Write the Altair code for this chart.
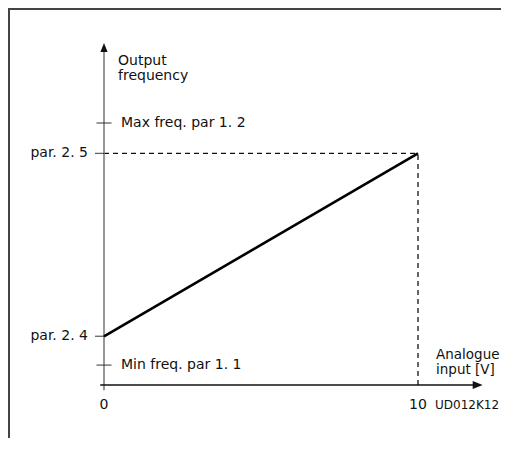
import altair as alt
import pandas as pd

# ---------------- data ----------------
X_TICK_VALUES = [0, 10]
X_TICK_LABELS = ["0", "10"]
LINE_X = [0, 10]
LINE_Y = [9.3, 44.2]
LEVEL_LABELS = ["Min freq. par 1. 1", "par. 2. 4", "par. 2. 5", "Max freq. par 1. 2"]
LEVEL_VALUES = [3.8, 9.3, 44.2, 50.0]
LEVEL_SIDE = ["right", "left", "left", "right"]
Y_TITLE = "Output\nfrequency"
X_TITLE = "Analogue\ninput [V]"
CODE_LABEL = "UD012K12"
X_AXIS_END = 11.9
Y_AXIS_END = 64.4

# ---------------- layout ----------------
W, H = 493, 430
X0_PX, PX_PER_X = 96, 31.4
Y0_PX, PX_PER_Y = 377, 5.24
FONT = "DejaVu Sans"
INK = "#111111"

xs = alt.Scale(domain=[-X0_PX / PX_PER_X, (W - X0_PX) / PX_PER_X], nice=False, zero=False)
ys = alt.Scale(domain=[(Y0_PX - H) / PX_PER_Y, Y0_PX / PX_PER_Y], nice=False, zero=False)


def X(f="x"):
    return alt.X(f"{f}:Q", scale=xs, axis=None)


def Y(f="y"):
    return alt.Y(f"{f}:Q", scale=ys, axis=None)


one = pd.DataFrame({"a": [0]})

frame_left = alt.Chart(one).mark_rule(color="#444444", strokeWidth=2).encode(
    x=alt.value(1), y=alt.value(0), y2=alt.value(H)
)
frame_top = alt.Chart(one).mark_rule(color="#444444", strokeWidth=2).encode(
    y=alt.value(1), x=alt.value(0), x2=alt.value(W)
)

y_axis = alt.Chart(pd.DataFrame({"x": [0], "y": [-1], "y2": [Y_AXIS_END]})).mark_rule(
    color="#777777", strokeWidth=1.5
).encode(x=X(), y=Y(), y2="y2:Q")

x_axis = alt.Chart(pd.DataFrame({"x": [-0.12], "x2": [X_AXIS_END], "y": [0]})).mark_rule(
    color=INK, strokeWidth=1.3
).encode(x=X(), x2="x2:Q", y=Y())

y_arrow = alt.Chart(pd.DataFrame({"x": [0], "y": [Y_AXIS_END]})).mark_point(
    shape="M0,-1L0.8,1L-0.8,1Z", filled=True, size=81, color=INK, opacity=1
).encode(x=X(), y=Y())

x_arrow = alt.Chart(pd.DataFrame({"x": [X_AXIS_END], "y": [0]})).mark_point(
    shape="M1,0L-1,-0.8L-1,0.8Z", filled=True, size=100, color=INK, opacity=1
).encode(x=X(), y=Y())

main_line = alt.Chart(pd.DataFrame({"x": LINE_X, "y": LINE_Y})).mark_line(
    color="#000000", strokeWidth=2.6
).encode(x=X(), y=Y())

dash_h = alt.Chart(pd.DataFrame({"x": [LINE_X[0]], "x2": [LINE_X[1]], "y": [LINE_Y[1]]})).mark_rule(
    color=INK, strokeWidth=1.3, strokeDash=[5, 4]
).encode(x=X(), x2="x2:Q", y=Y())

dash_v = alt.Chart(pd.DataFrame({"x": [LINE_X[1]], "y": [0], "y2": [LINE_Y[1]]})).mark_rule(
    color=INK, strokeWidth=1.3, strokeDash=[5, 4]
).encode(x=X(), y=Y(), y2="y2:Q")

levels = pd.DataFrame({"label": LEVEL_LABELS, "y": LEVEL_VALUES, "side": LEVEL_SIDE, "x": 0})
lv_right = levels[levels.side == "right"]
lv_left = levels[levels.side == "left"]

ticks_full = alt.Chart(lv_right).mark_tick(
    orient="horizontal", size=15, thickness=1.3, color="#222222"
).encode(x=X(), y=Y())
ticks_left = alt.Chart(lv_left).mark_tick(
    orient="horizontal", size=9, thickness=1.3, color="#222222", xOffset=-4.5
).encode(x=X(), y=Y())

txt = dict(font=FONT, fontSize=14, color=INK)

lab_right = alt.Chart(lv_right).mark_text(align="left", baseline="middle", dx=17, **txt).encode(
    x=X(), y=Y(), text="label:N"
)
lab_left = alt.Chart(lv_left).mark_text(align="right", baseline="middle", dx=-16, **txt).encode(
    x=X(), y=Y(), text="label:N"
)

xticks = alt.Chart(pd.DataFrame({"x": X_TICK_VALUES, "label": X_TICK_LABELS, "y": 0})).mark_text(
    align="center", baseline="middle", dy=20, **txt
).encode(x=X(), y=Y(), text="label:N")

code = alt.Chart(pd.DataFrame({"x": [X_TICK_VALUES[1]], "y": [0], "label": [CODE_LABEL]})).mark_text(
    align="left", baseline="middle", dx=17, dy=20, font=FONT, fontSize=12, color=INK
).encode(x=X(), y=Y(), text="label:N")

y_title = alt.Chart(pd.DataFrame({"x": [0], "y": [Y_AXIS_END]})).mark_text(
    align="left", baseline="top", dx=14, dy=6, lineBreak="\n", lineHeight=15, text=Y_TITLE, **txt
).encode(x=X(), y=Y())

x_title = alt.Chart(pd.DataFrame({"x": [X_TICK_VALUES[1]], "y": [0]})).mark_text(
    align="left", baseline="top", dx=18, dy=-37, lineBreak="\n", lineHeight=15, text=X_TITLE,
    font=FONT, fontSize=13.5, color=INK
).encode(x=X(), y=Y())

chart = alt.layer(
    frame_left, frame_top, dash_h, dash_v, y_axis, x_axis, main_line,
    ticks_full, ticks_left, y_arrow, x_arrow,
    lab_right, lab_left, xticks, code, y_title, x_title,
).properties(
    width=W, height=H, autosize="none", padding=0, background="white"
).configure_view(stroke=None)

chart.save("out.html", embed_options={"renderer": "svg", "actions": False})
